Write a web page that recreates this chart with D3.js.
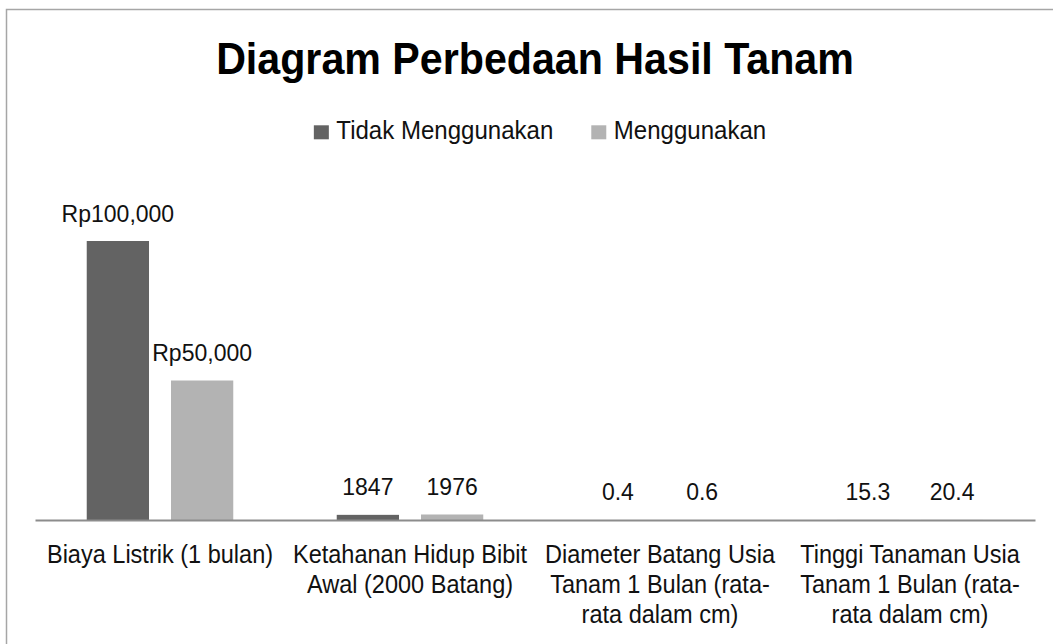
<!DOCTYPE html>
<html><head><meta charset="utf-8">
<script src="https://cdn.jsdelivr.net/npm/d3@7"></script>
<style>body{margin:0;background:#fff}svg{display:block}</style>
</head><body>
<svg id="chart" width="1053" height="644"></svg>
<script>
const title = "Diagram Perbedaan Hasil Tanam";
const seriesNames = ["Tidak Menggunakan", "Menggunakan"];
const categories = [
  "Biaya Listrik (1 bulan)",
  "Ketahanan Hidup Bibit Awal (2000 Batang)",
  "Diameter Batang Usia Tanam 1 Bulan (rata-rata dalam cm)",
  "Tinggi Tanaman Usia Tanam 1 Bulan (rata-rata dalam cm)"
];
const categoryLabelLines = [
  ["Biaya Listrik (1 bulan)"],
  ["Ketahanan Hidup Bibit", "Awal (2000 Batang)"],
  ["Diameter Batang Usia", "Tanam 1 Bulan (rata-", "rata dalam cm)"],
  ["Tinggi Tanaman Usia", "Tanam 1 Bulan (rata-", "rata dalam cm)"]
];
const valuesTidak = [100000, 1847, 0.4, 15.3];
const valuesMenggunakan = [50000, 1976, 0.6, 20.4];
const labelsTidak = ["Rp100,000", "1847", "0.4", "15.3"];
const labelsMenggunakan = ["Rp50,000", "1976", "0.6", "20.4"];
const seriesColors = ["#636363", "#b3b3b3"];

const FONT = "'Liberation Sans', Arial, sans-serif";
const svg = d3.select("#chart");

// chart border
svg.append("rect").attr("x", 6.5).attr("y", 9.5).attr("width", 1060).attr("height", 700)
  .attr("fill", "#fff").attr("stroke", "#a6a6a6").attr("stroke-width", 1.5);

const x = d3.scaleBand().domain(categories).range([35, 1035]).padding(0);
const xs = d3.scaleBand().domain(seriesNames).range([0, x.bandwidth()])
  .paddingInner(0.261).paddingOuter(0.614);
const y = d3.scaleLinear().domain([0, 120000]).range([520, 185.2]);

const series = [
  {name: seriesNames[0], values: valuesTidak, labels: labelsTidak, color: seriesColors[0]},
  {name: seriesNames[1], values: valuesMenggunakan, labels: labelsMenggunakan, color: seriesColors[1]}
];

// bars
const plot = svg.append("g");
series.forEach(s => {
  plot.selectAll(null).data(categories).enter().append("rect")
    .attr("x", (c) => x(c) + xs(s.name))
    .attr("width", xs.bandwidth())
    .attr("y", (c, i) => y(s.values[i]))
    .attr("height", (c, i) => y(0) - y(s.values[i]))
    .attr("fill", s.color);
});

// axis
const axisG = svg.append("g").attr("transform", `translate(0,${y(0)})`)
  .call(d3.axisBottom(x).tickSize(0).tickSizeOuter(0));
axisG.select(".domain").attr("stroke", "#8c8c8c").attr("stroke-width", 2);
axisG.selectAll(".tick text").each(function(d, i) {
  const t = d3.select(this);
  t.text(null).attr("y", 0).attr("dy", null)
    .attr("font-family", FONT).attr("font-size", 26).attr("fill", "#111")
    .attr("text-anchor", "middle").attr("transform", "scale(0.905,1)");
  categoryLabelLines[i].forEach((line, k) => {
    t.append("tspan").attr("x", 0).attr("y", 43 + k * 30).text(line);
  });
});

// data labels
series.forEach(s => {
  svg.selectAll(null).data(categories).enter().append("text")
    .attr("transform", (c, i) =>
      `translate(${x(c) + xs(s.name) + xs.bandwidth() / 2},${y(s.values[i]) - 19.5})`)
    .attr("text-anchor", "middle")
    .attr("font-family", FONT).attr("font-size", 23).attr("fill", "#111")
    .text((c, i) => s.labels[i]);
});

// title
svg.append("text")
  .attr("transform", "translate(535,74) scale(0.936,1)")
  .attr("text-anchor", "middle")
  .attr("font-family", FONT).attr("font-weight", "bold").attr("font-size", 44)
  .attr("fill", "#000").text(title);

// legend
const legend = svg.append("g");
const items = legend.selectAll("g").data(series).enter().append("g");
items.append("rect").attr("x", 0).attr("y", -14).attr("width", 15).attr("height", 14)
  .attr("fill", d => d.color);
items.append("text").attr("transform", "translate(22.5,0) scale(0.925,1)")
  .attr("font-family", FONT).attr("font-size", 26).attr("fill", "#111")
  .text(d => d.name);
let cx = 0;
items.each(function(d) {
  const w = 22.5 + this.querySelector("text").getComputedTextLength() * 0.925;
  d3.select(this).attr("transform", `translate(${cx},0)`);
  cx += w + 38;
});
const totalW = cx - 38;
legend.attr("transform", `translate(${540 - totalW / 2},139.3)`);
</script>
</body></html>
